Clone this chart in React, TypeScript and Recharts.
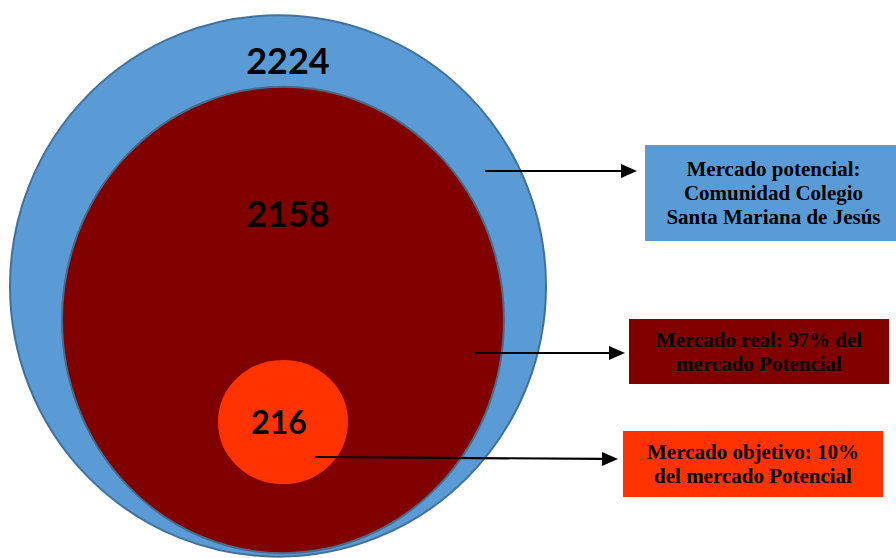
import { PieChart, Pie } from "recharts";

// market sizes shown inside the nested circles
const marketNames = ["Mercado potencial", "Mercado real", "Mercado objetivo"];
const marketValues = [2224, 2158, 216];
const boxLines = [
  ["Mercado potencial:", "Comunidad Colegio", "Santa Mariana de Jesús"],
  ["Mercado real: 97% del", "mercado Potencial"],
  ["Mercado objetivo: 10%", "del mercado Potencial"],
];

const colors = ["#5b9bd5", "#800000", "#ff3300"];
const strokes = ["#41719c", "#4a6a8a", "#ff3300"];

// placement of each circle (radius is horizontal, aspect stretches vertically)
const circleLayout = [
  { cx: 278, cy: 286, r: 268, aspect: 1.01, labelDx: 10, labelDy: -212, fontSize: 36 },
  { cx: 283, cy: 320, r: 221, aspect: 1.055, labelDx: 5, labelDy: -93, fontSize: 36 },
  { cx: 283, cy: 422, r: 64, aspect: 0.955, labelDx: -4, labelDy: 12, fontSize: 32 },
];

const boxLayout = [
  { x: 645, y: 145, w: 251, h: 96, textDx: 3, arrow: [485, 171, 637, 171] },
  { x: 629, y: 319, w: 260, h: 65, textDx: 0, arrow: [475, 353, 625, 353] },
  { x: 623, y: 431, w: 260, h: 66, textDx: -1, arrow: [315, 457, 618, 459] },
];

const makeShape = (i: number) => (props: any) => {
  const { cx, cy, outerRadius } = props;
  return (
    <ellipse
      cx={cx}
      cy={cy}
      rx={outerRadius}
      ry={outerRadius * circleLayout[i].aspect}
      fill={colors[i]}
      stroke={strokes[i]}
      strokeWidth={2}
    />
  );
};

const makeLabel = (i: number) => (props: any) => {
  const { cx, cy, value } = props;
  const l = circleLayout[i];
  return (
    <text
      x={cx + l.labelDx}
      y={cy + l.labelDy}
      textAnchor="middle"
      fill="#000"
      fontFamily="Lato, sans-serif"
      fontWeight={700}
      fontSize={l.fontSize}
    >
      {value}
    </text>
  );
};

function Arrow({ pts }: { pts: number[] }) {
  const [x1, y1, x2, y2] = pts;
  const ang = Math.atan2(y2 - y1, x2 - x1);
  const len = 16;
  const half = 7;
  const bx = x2 - len * Math.cos(ang);
  const by = y2 - len * Math.sin(ang);
  const px = -Math.sin(ang) * half;
  const py = Math.cos(ang) * half;
  return (
    <g>
      <line x1={x1} y1={y1} x2={bx} y2={by} stroke="#000" strokeWidth={2.2} />
      <polygon points={`${x2},${y2} ${bx + px},${by + py} ${bx - px},${by - py}`} fill="#000" />
    </g>
  );
}

export default function App() {
  return (
    <div style={{ position: "absolute", left: 0, top: 0, width: 896, height: 558, background: "#fff", overflow: "hidden" }}>
      <PieChart width={896} height={558} margin={{ top: 0, right: 0, bottom: 0, left: 0 }}>
        {marketValues.map((v, i) => (
          <Pie
            key={marketNames[i]}
            data={[{ name: marketNames[i], value: v }]}
            dataKey="value"
            cx={circleLayout[i].cx}
            cy={circleLayout[i].cy}
            innerRadius={0}
            outerRadius={circleLayout[i].r}
            startAngle={90}
            endAngle={-270}
            fill={colors[i]}
            stroke={strokes[i]}
            shape={makeShape(i)}
            label={makeLabel(i)}
            labelLine={false}
            isAnimationActive={false}
          />
        ))}
      </PieChart>
      <svg width={896} height={558} style={{ position: "absolute", left: 0, top: 0, pointerEvents: "none" }}>
        {boxLayout.map((b, i) => (
          <Arrow key={i} pts={b.arrow} />
        ))}
      </svg>
      {boxLayout.map((b, i) => (
        <div
          key={i}
          style={{
            position: "absolute",
            left: b.x,
            top: b.y,
            width: b.w,
            height: b.h,
            background: colors[i],
            display: "flex",
            flexDirection: "column",
            justifyContent: "center",
            alignItems: "center",
            paddingLeft: b.textDx * 2,
            boxSizing: "border-box",
            fontFamily: "'Liberation Serif', 'Times New Roman', serif",
            fontWeight: 700,
            fontSize: 21,
            lineHeight: "24px",
            color: "#000",
            textAlign: "center",
          }}
        >
          {boxLines[i].map((t) => (
            <div key={t} style={{ whiteSpace: "nowrap" }}>{t}</div>
          ))}
        </div>
      ))}
    </div>
  );
}
